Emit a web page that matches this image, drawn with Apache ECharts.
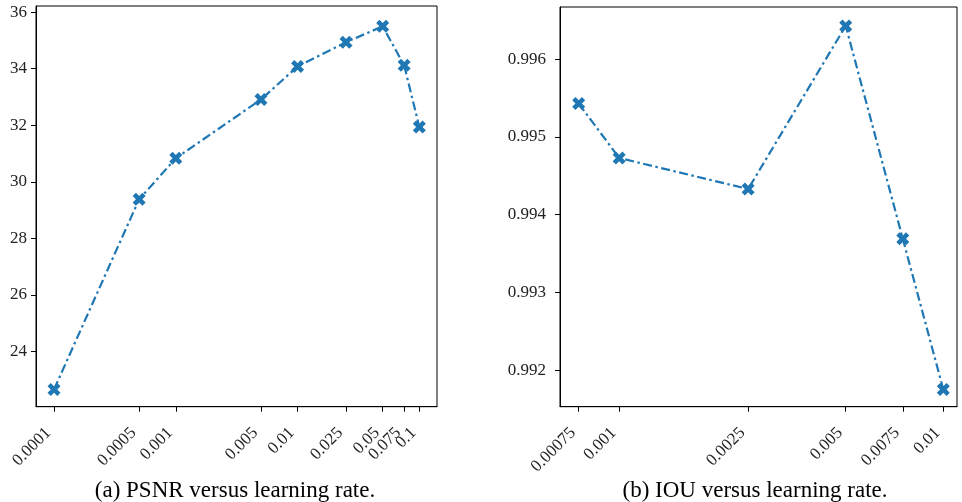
<!DOCTYPE html>
<html>
<head>
<meta charset="utf-8">
<script src="https://cdn.jsdelivr.net/npm/echarts@6/dist/echarts.min.js"></script>
<style>
  html, body { margin: 0; padding: 0; background: #fff; }
  #chart { width: 962px; height: 502px; }
</style>
</head>
<body>
<div id="chart"></div>
<script>
// (a) PSNR versus learning rate
const psnrRates = [0.0001, 0.0005, 0.001, 0.005, 0.01, 0.025, 0.05, 0.075, 0.1];
const psnrLabels = ['0.0001', '0.0005', '0.001', '0.005', '0.01', '0.025', '0.05', '0.075', '0.1'];
const psnrValues = [22.65, 29.38, 30.83, 32.91, 34.08, 34.94, 35.5, 34.12, 31.94];
const psnrTicks = [24, 26, 28, 30, 32, 34, 36];

// (b) IOU versus learning rate
const iouRates = [0.00075, 0.001, 0.0025, 0.005, 0.0075, 0.01];
const iouLabels = ['0.00075', '0.001', '0.0025', '0.005', '0.0075', '0.01'];
const iouValues = [0.99543, 0.99473, 0.99433, 0.99643, 0.99369, 0.99175];
const iouTicks = [0.992, 0.993, 0.994, 0.995, 0.996];

const FONT = '"Liberation Serif", "DejaVu Serif", serif';
const BLUE = '#1f77b4';
// matplotlib 'X' marker
const XMARK = 'path://M0.25 0 L0.5 0.25 L0.75 0 L1 0.25 L0.75 0.5 L1 0.75 L0.75 1 L0.5 0.75 L0.25 1 L0 0.75 L0.25 0.5 L0 0.25 Z';

const log10 = Math.log10;

function closestLabel(rates, labels, v) {
  let best = 0;
  for (let i = 1; i < rates.length; i++) {
    if (Math.abs(log10(rates[i]) - v) < Math.abs(log10(rates[best]) - v)) best = i;
  }
  return labels[best];
}

// echarts drops a label (and its tick) when it crowds another one,
// so the crowded 0.075 tick of panel (a) gets its own overlaid axis
function xAxisFor(idx, rates, labels, shown, min, max, lineShow) {
  const vals = shown.map(log10);
  return {
    gridIndex: idx,
    type: 'value',
    position: 'bottom',
    offset: 0,
    min: min,
    max: max,
    splitLine: { show: false },
    axisLine: { show: lineShow, onZero: false, lineStyle: { color: '#000', width: 1 } },
    axisTick: { show: true, length: 5, customValues: vals, lineStyle: { color: '#000' } },
    axisLabel: {
      customValues: vals,
      formatter: (v) => closestLabel(rates, labels, v),
      rotate: 45,
      margin: 18,
      padding: [0, 8, 0, 0],
      showMinLabel: true,
      showMaxLabel: true,
      hideOverlap: false,
      color: '#222',
      fontFamily: FONT,
      fontSize: 17
    }
  };
}

function yAxisFor(idx, ticks, min, max, digits, margin) {
  return {
    gridIndex: idx,
    type: 'value',
    min: min,
    max: max,
    splitLine: { show: false },
    axisLine: { show: true, onZero: false, lineStyle: { color: '#000', width: 1 } },
    axisTick: { show: true, length: 5, customValues: ticks, lineStyle: { color: '#000' } },
    axisLabel: {
      customValues: ticks,
      formatter: (v) => v.toFixed(digits),
      margin: margin,
      showMinLabel: true,
      showMaxLabel: true,
      color: '#222',
      fontFamily: FONT,
      fontSize: 17
    }
  };
}

function seriesFor(idx, rates, values) {
  return {
    type: 'line',
    xAxisIndex: idx,
    yAxisIndex: idx,
    data: rates.map((r, i) => [log10(r), values[i]]),
    symbol: XMARK,
    symbolSize: 13,
    showAllSymbol: true,
    itemStyle: { color: BLUE },
    lineStyle: { color: BLUE, width: 2.2, type: [9, 3.5, 2.5, 3.5] },
    animation: false
  };
}

const psnrMain = psnrRates.filter((r) => r !== 0.075);
const psnrExtra = psnrRates.filter((r) => r === 0.075);

const chart = echarts.init(document.getElementById('chart'));
chart.setOption({
  animation: false,
  title: [
    {
      text: '(a) PSNR versus learning rate.',
      left: 230, top: 474, textAlign: 'center',
      textStyle: { fontFamily: FONT, fontSize: 23, fontWeight: 'normal', color: '#000' }
    },
    {
      text: '(b) IOU versus learning rate.',
      left: 750, top: 474, textAlign: 'center',
      textStyle: { fontFamily: FONT, fontSize: 23, fontWeight: 'normal', color: '#000' }
    }
  ],
  grid: [
    { left: 36, top: 6, width: 401, height: 400.7, containLabel: false, show: true, borderColor: '#000', borderWidth: 1 },
    { left: 560, top: 7, width: 397, height: 399.7, containLabel: false, show: true, borderColor: '#000', borderWidth: 1 }
  ],
  xAxis: [
    xAxisFor(0, psnrRates, psnrLabels, psnrMain, -4.148, -0.855, true),
    xAxisFor(1, iouRates, iouLabels, iouRates, -3.1826, -1.9577, true),
    xAxisFor(0, psnrRates, psnrLabels, psnrExtra, -4.148, -0.855, false)
  ],
  yAxis: [
    yAxisFor(0, psnrTicks, 22.04, 36.22, 0, 9),
    yAxisFor(1, iouTicks, 0.991528, 0.996673, 3, 14)
  ],
  series: [
    seriesFor(0, psnrRates, psnrValues),
    seriesFor(1, iouRates, iouValues)
  ]
});
</script>
</body>
</html>
